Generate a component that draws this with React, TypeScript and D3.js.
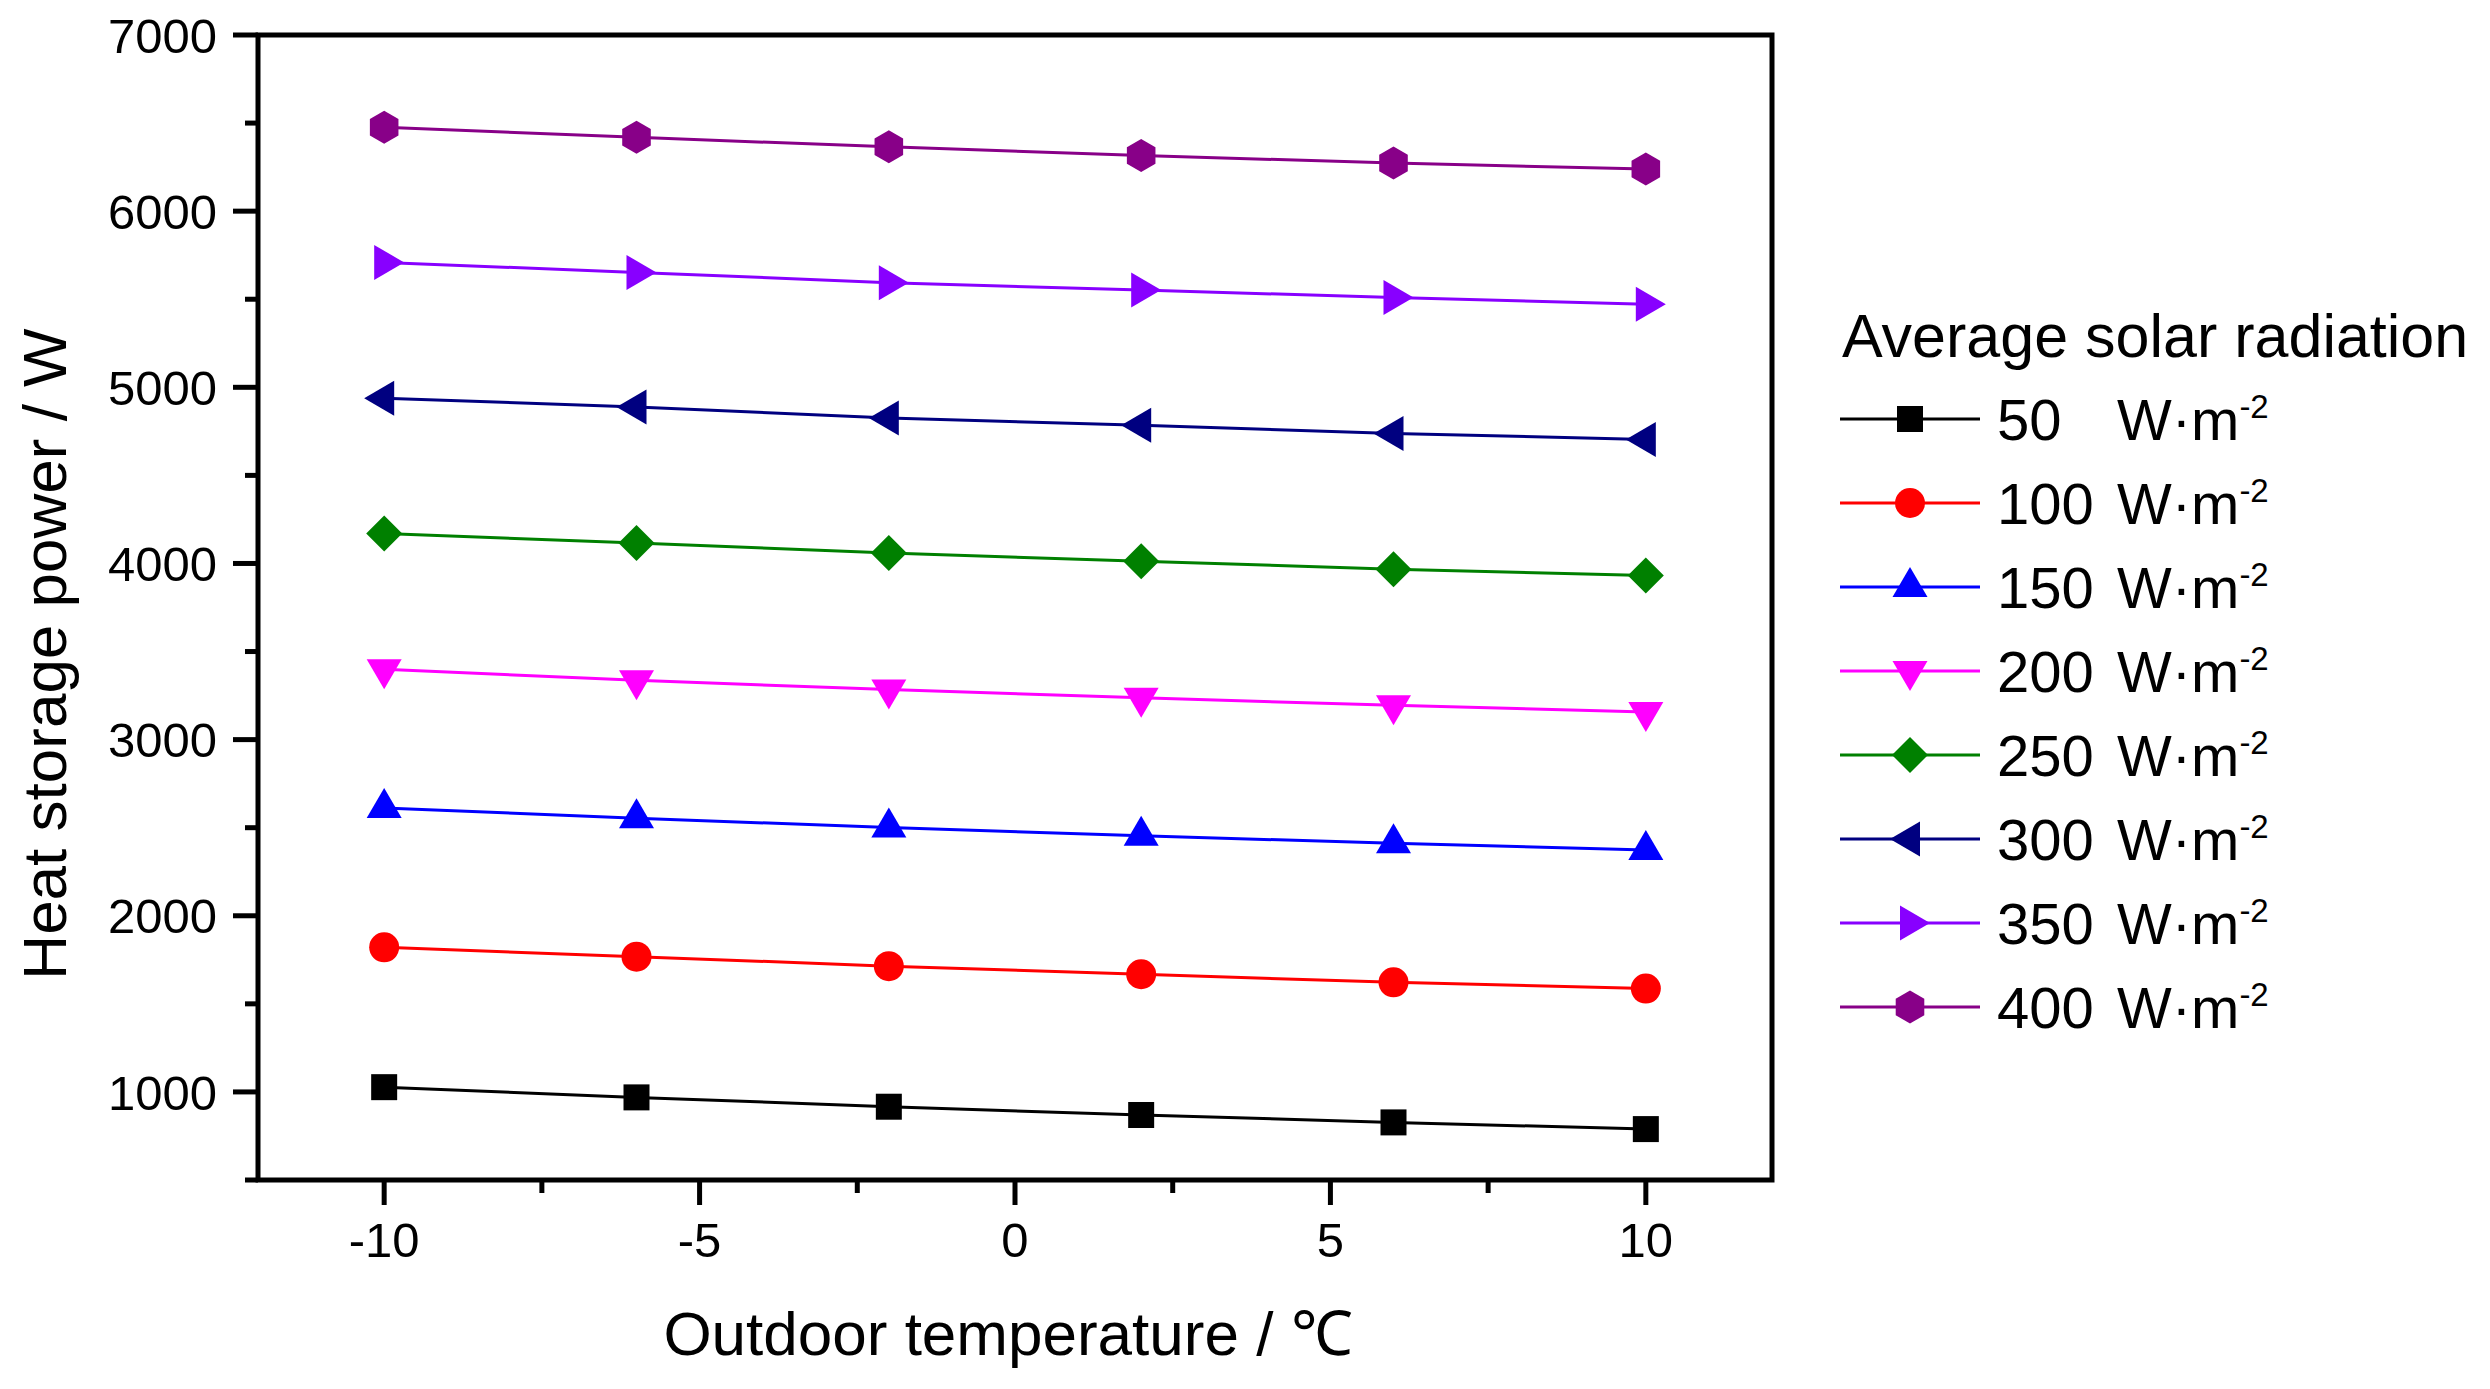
import { useEffect, useRef } from 'react';
import * as d3 from 'd3';

const temperatures = [-10, -6, -2, 2, 6, 10];
const radiationLevels = [50, 100, 150, 200, 250, 300, 350, 400];

const power50 = [1027, 969, 916, 869, 827, 789];
const power100 = [1821, 1768, 1714, 1668, 1622, 1587];
const power150 = [2612, 2554, 2501, 2454, 2412, 2374];
const power200 = [3399, 3337, 3284, 3237, 3195, 3157];
const power250 = [4170, 4116, 4059, 4013, 3967, 3932];
const power300 = [4938, 4888, 4826, 4784, 4738, 4704];
const power350 = [5709, 5652, 5594, 5552, 5510, 5471];
const power400 = [6477, 6419, 6365, 6316, 6273, 6239];

const seriesValues = [power50, power100, power150, power200, power250, power300, power350, power400];
const seriesColors = ['#000000', '#FF0000', '#0000FF', '#FF00FF', '#008000', '#000080', '#8800FF', '#880088'];
const seriesShapes = ['square', 'circle', 'up', 'down', 'diamond', 'left', 'right', 'hexagon'];

const xMajorTicks = [-10, -5, 0, 5, 10];
const xMinorTicks = [-7.5, -2.5, 2.5, 7.5];
const yMajorTicks = [1000, 2000, 3000, 4000, 5000, 6000, 7000];
const yMinorTicks = [500, 1500, 2500, 3500, 4500, 5500, 6500];

const WIDTH = 2490;
const HEIGHT = 1389;
const FONT = '"Liberation Sans", Arial, Helvetica, sans-serif';

function markerPath(shape: string): string {
  const p = d3.path();
  const poly = (pts: [number, number][]) => {
    p.moveTo(pts[0][0], pts[0][1]);
    pts.slice(1).forEach(([a, b]) => p.lineTo(a, b));
    p.closePath();
  };
  switch (shape) {
    case 'square':
      poly([[-13, -13], [13, -13], [13, 13], [-13, 13]]);
      break;
    case 'circle':
      p.arc(0, 0, 15, 0, Math.PI * 2);
      break;
    case 'up':
      poly([[0, -20], [17.5, 10], [-17.5, 10]]);
      break;
    case 'down':
      poly([[0, 20], [17.5, -10], [-17.5, -10]]);
      break;
    case 'diamond':
      poly([[0, -18], [18, 0], [0, 18], [-18, 0]]);
      break;
    case 'left':
      poly([[-20, 0], [10, -17.5], [10, 17.5]]);
      break;
    case 'right':
      poly([[20, 0], [-10, -17.5], [-10, 17.5]]);
      break;
    default: {
      const pts: [number, number][] = d3.range(6).map(k => {
        const a = (-90 + k * 60) * Math.PI / 180;
        return [16.5 * Math.cos(a), 16.5 * Math.sin(a)];
      });
      poly(pts);
    }
  }
  return p.toString();
}

export default function App() {
  const svgRef = useRef<SVGSVGElement>(null);

  useEffect(() => {
    if (!svgRef.current) return;
    const svg = d3.select(svgRef.current);
    svg.selectAll('*').remove();

    const left = 258, right = 1772, top = 35, bottom = 1180;
    const x = d3.scaleLinear().domain([-12, 12]).range([left, right]);
    const y = d3.scaleLinear().domain([500, 7000]).range([bottom, top]);

    svg.append('rect').attr('width', WIDTH).attr('height', HEIGHT).attr('fill', '#ffffff');

    // Series lines and markers
    const line = d3.line<number>()
      .x((_, i) => x(temperatures[i]))
      .y(d => y(d));

    seriesValues.forEach((vals, s) => {
      svg.append('path')
        .attr('d', line(vals) || '')
        .attr('fill', 'none')
        .attr('stroke', seriesColors[s])
        .attr('stroke-width', 3);

      svg.append('g')
        .selectAll('path')
        .data(vals)
        .enter()
        .append('path')
        .attr('d', markerPath(seriesShapes[s]))
        .attr('transform', (d, i) => `translate(${x(temperatures[i])},${y(d)})`)
        .attr('fill', seriesColors[s]);
    });

    // Frame
    svg.append('rect')
      .attr('x', left)
      .attr('y', top)
      .attr('width', right - left)
      .attr('height', bottom - top)
      .attr('fill', 'none')
      .attr('stroke', '#000')
      .attr('stroke-width', 5);

    // Y ticks
    const yAxis = svg.append('g');
    yMajorTicks.forEach(v => {
      yAxis.append('line')
        .attr('x1', left).attr('x2', left - 25)
        .attr('y1', y(v)).attr('y2', y(v))
        .attr('stroke', '#000').attr('stroke-width', 5);
      yAxis.append('text')
        .attr('x', 217)
        .attr('y', y(v))
        .attr('dy', '0.36em')
        .attr('text-anchor', 'end')
        .attr('font-family', FONT)
        .attr('font-size', 49)
        .text(v);
    });
    yMinorTicks.forEach(v => {
      yAxis.append('line')
        .attr('x1', left).attr('x2', left - 13)
        .attr('y1', y(v)).attr('y2', y(v))
        .attr('stroke', '#000').attr('stroke-width', 5);
    });

    // X ticks
    const xAxis = svg.append('g');
    xMajorTicks.forEach(v => {
      xAxis.append('line')
        .attr('x1', x(v)).attr('x2', x(v))
        .attr('y1', bottom).attr('y2', bottom + 25)
        .attr('stroke', '#000').attr('stroke-width', 5);
      xAxis.append('text')
        .attr('x', x(v))
        .attr('y', 1257)
        .attr('text-anchor', 'middle')
        .attr('font-family', FONT)
        .attr('font-size', 49)
        .text(v);
    });
    xMinorTicks.forEach(v => {
      xAxis.append('line')
        .attr('x1', x(v)).attr('x2', x(v))
        .attr('y1', bottom).attr('y2', bottom + 13)
        .attr('stroke', '#000').attr('stroke-width', 5);
    });

    // Axis titles
    svg.append('text')
      .attr('x', 1008)
      .attr('y', 1355)
      .attr('text-anchor', 'middle')
      .attr('font-family', FONT)
      .attr('font-size', 62)
      .text('Outdoor temperature / ℃');

    svg.append('text')
      .attr('transform', 'translate(66,654) rotate(-90)')
      .attr('text-anchor', 'middle')
      .attr('font-family', FONT)
      .attr('font-size', 62)
      .text('Heat storage power / W');

    // Legend
    const legend = svg.append('g');
    legend.append('text')
      .attr('x', 1842)
      .attr('y', 357)
      .attr('font-family', FONT)
      .attr('font-size', 61)
      .text('Average solar radiation');

    radiationLevels.forEach((r, i) => {
      const ry = 419 + i * 84;
      legend.append('line')
        .attr('x1', 1840).attr('x2', 1980)
        .attr('y1', ry).attr('y2', ry)
        .attr('stroke', seriesColors[i])
        .attr('stroke-width', 3);
      legend.append('path')
        .attr('d', markerPath(seriesShapes[i]))
        .attr('transform', `translate(1910,${ry})`)
        .attr('fill', seriesColors[i]);
      const t = legend.append('text')
        .attr('y', ry + 21)
        .attr('font-family', FONT)
        .attr('font-size', 58);
      t.append('tspan').attr('x', 1997).text(String(r));
      t.append('tspan').attr('x', 2117).text('W·m');
      t.append('tspan')
        .attr('dy', -22)
        .attr('font-size', 33)
        .text('-2');
    });
  }, []);

  return (
    <svg
      ref={svgRef}
      width={WIDTH}
      height={HEIGHT}
      style={{ position: 'absolute', left: 0, top: 0, display: 'block', background: '#fff' }}
    />
  );
}
